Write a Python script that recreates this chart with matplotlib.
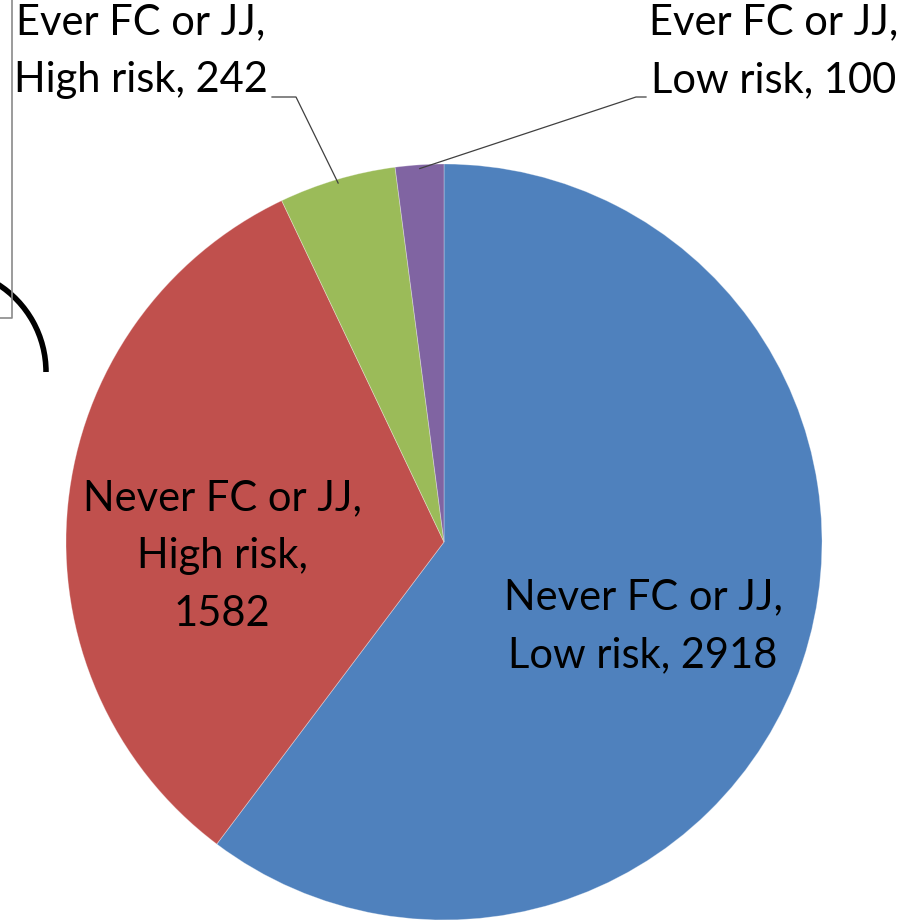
import matplotlib
matplotlib.use("Agg")
import matplotlib.pyplot as plt
from matplotlib.patches import Arc
import numpy as np

# Data
groups = ["Never FC or JJ", "Never FC or JJ", "Ever FC or JJ", "Ever FC or JJ"]
risks = ["Low risk", "High risk", "High risk", "Low risk"]
counts = [2918, 1582, 242, 100]
colors = ["#4F81BD", "#C0504D", "#9BBB59", "#8064A2"]

W, H = 909, 921
plt.rcParams["font.family"] = ["Lato", "DejaVu Sans"]

fig = plt.figure(figsize=(W / 100, H / 100), dpi=100)
ax = fig.add_axes([0, 0, 1, 1])

def Y(py):
    return H - py

cx, cy, r = 444, Y(542), 378
wedges, _ = ax.pie(counts, colors=colors, startangle=90, counterclock=False,
                   center=(cx, cy), radius=r,
                   wedgeprops=dict(linewidth=0.6, edgecolor=(1, 1, 1, 0.35)))
ax.set_xlim(0, W)
ax.set_ylim(0, H)
ax.set_aspect("auto")
ax.axis("off")

fs = 30
ls = 1.65
lbl = [f"{g},\n{rk}, {c}" for g, rk, c in zip(groups, risks, counts)]
lbl[1] = f"{groups[1]},\n{risks[1]},\n{counts[1]}"

# labels inside the two large wedges
ax.text(643, Y(626), lbl[0], ha="center", va="center", fontsize=fs,
        linespacing=ls)
ax.text(222, Y(556), lbl[1], ha="center", va="center", fontsize=fs,
        linespacing=ls)

# labels with leader lines for the two small wedges
ax.text(141, Y(51), lbl[2], ha="center", va="center", fontsize=fs,
        linespacing=ls)
ax.text(774, Y(51), lbl[3], ha="center", va="center", fontsize=fs,
        linespacing=ls)

def wedge_point(i, frac=1.0):
    w = wedges[i]
    mid = np.deg2rad((w.theta1 + w.theta2) / 2)
    return cx + frac * r * np.cos(mid), cy + frac * r * np.sin(mid)

gx, gy = wedge_point(2, 0.99)
ax.plot([272, 296, gx], [Y(97), Y(97), gy], color="#404040", lw=0.9)
px, py = wedge_point(3, 0.99)
ax.plot([646, 636, px], [Y(97), Y(97), py], color="#404040", lw=0.9)

# frame edge and curved stroke at the left border
ax.plot([12, 12, 0], [H, Y(318), Y(318)], color="#8a8a8a", lw=1.2,
        solid_capstyle="butt")
ax.add_patch(Arc((-58, Y(372)), 208, 208, theta1=0, theta2=58,
                 color="black", lw=4.0, capstyle="butt"))

fig.savefig("out.png", dpi=100)
